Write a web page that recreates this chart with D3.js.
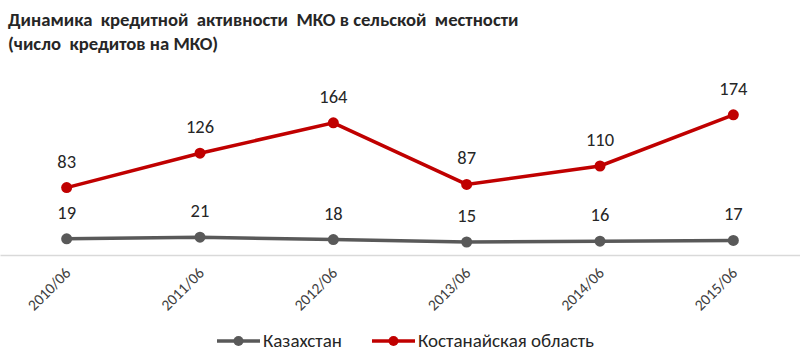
<!DOCTYPE html>
<html><head><meta charset="utf-8">
<script src="https://cdn.jsdelivr.net/npm/d3@7"></script>
<style>body{margin:0;background:#fff}svg{display:block}</style>
</head><body>
<svg id="c" width="800" height="359"></svg>
<script>
const categories = ["2010/06","2011/06","2012/06","2013/06","2014/06","2015/06"];
const kazakhstan = [19,21,18,15,16,17];
const kostanai = [83,126,164,87,110,174];
const seriesNames = ["Казахстан","Костанайская область"];
const titleLines = ["Динамика  кредитной  активности  МКО в сельской  местности","(число  кредитов на МКО)"];

const svg = d3.select("#c");
const font = "Carlito, Calibri, 'Liberation Sans', Arial, sans-serif";
const x = d3.scaleBand().domain(categories).range([0,800]);
const cx = d => x(d) + x.bandwidth()/2;
const y = d3.scaleLinear().domain([0,200]).range([254,94]);

// title
svg.selectAll("text.title").data(titleLines).join("text")
  .attr("class","title").attr("x",8).attr("y",(d,i)=>26+i*24)
  .attr("font-family",font).attr("font-weight","bold").attr("font-size",18.7)
  .attr("fill","#262626").attr("xml:space","preserve").style("white-space","pre")
  .text(d=>d);

// axis
const xAxis = d3.axisBottom(x).tickSize(0).tickSizeOuter(0);
const gx = svg.append("g").attr("transform","translate(0,255)").call(xAxis);
gx.select(".domain").attr("stroke","#d9d9d9").attr("stroke-width",1.5);
gx.selectAll(".tick text")
  .attr("font-family",font).attr("font-size",15.5).attr("fill","#404040")
  .attr("text-anchor","end").attr("dy",0).attr("y",0)
  .attr("transform","translate(5,19) rotate(-45)");

const series = [
  {name:seriesNames[0], values:kazakhstan, color:"#595959"},
  {name:seriesNames[1], values:kostanai, color:"#c00000"}
];
const line = d3.line().x((d,i)=>cx(categories[i])).y(d=>y(d));
series.forEach(s=>{
  const g = svg.append("g");
  g.append("path").datum(s.values).attr("d",line).attr("fill","none")
    .attr("stroke",s.color).attr("stroke-width",3.5);
  g.selectAll("circle").data(s.values).join("circle")
    .attr("cx",(d,i)=>cx(categories[i])).attr("cy",d=>y(d)).attr("r",5.5).attr("fill",s.color);
  g.selectAll("text").data(s.values).join("text")
    .attr("x",(d,i)=>cx(categories[i])).attr("y",d=>y(d)-20)
    .attr("text-anchor","middle").attr("font-family",font).attr("font-size",18.5)
    .attr("fill","#262626").text(d=>d);
});

// legend
const leg = [{x:217, tx:263},{x:372, tx:418}];
series.forEach((s,i)=>{
  const g = svg.append("g");
  g.append("line").attr("x1",leg[i].x).attr("x2",leg[i].x+43).attr("y1",341).attr("y2",341)
    .attr("stroke",s.color).attr("stroke-width",3.5);
  g.append("circle").attr("cx",leg[i].x+21.5).attr("cy",341).attr("r",5).attr("fill",s.color);
  g.append("text").attr("x",leg[i].tx).attr("y",347).attr("font-family",font).attr("font-size",19)
    .attr("fill","#262626").text(s.name);
});
</script>
</body></html>
